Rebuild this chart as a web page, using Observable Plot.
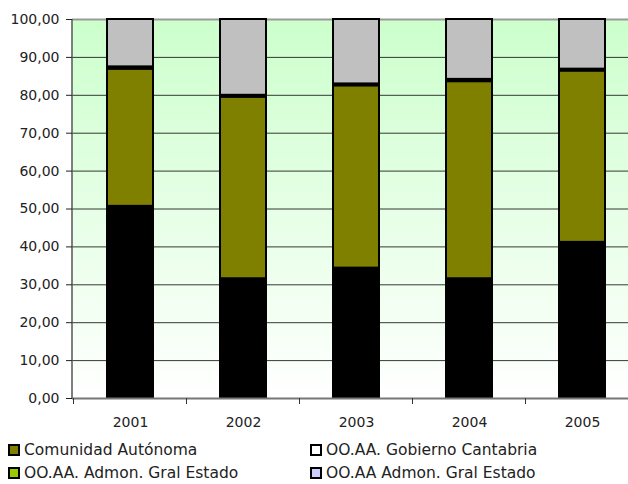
<!DOCTYPE html>
<html>
<head>
<meta charset="utf-8">
<script src="https://cdn.jsdelivr.net/npm/d3@7"></script>
<script src="https://cdn.jsdelivr.net/npm/@observablehq/plot@0.6"></script>
<style>
  html, body { margin: 0; padding: 0; background: #fff; overflow: hidden; }
  #chart svg { display: block; }
  .legend { display: grid; grid-template-columns: 302px auto; padding-left: 8px; margin-top: 8px;
    font-family: "DejaVu Sans", sans-serif; font-size: 15.5px; color: #222; }
  .item { display: flex; align-items: center; height: 23px; white-space: nowrap; }
  .sw { width: 12px; height: 12px; box-sizing: border-box; border: 2px solid #000; margin-right: 4px; flex: none; }
</style>
</head>
<body>
<div id="chart"></div>
<div class="legend" id="legend"></div>
<script>
const years = ["2001", "2002", "2003", "2004", "2005"];
const seriesBlack = [50.7, 31.6, 34.4, 31.6, 41.2];
const seriesOlive = [36.2, 47.9, 48.1, 52.0, 45.2];
const seriesThin  = [0.6, 0.5, 0.5, 0.6, 0.5];
const seriesGray  = [12.5, 20.0, 17.0, 15.8, 13.1];
const yTicks = [0, 10, 20, 30, 40, 50, 60, 70, 80, 90, 100];
const segNames = ["s1", "s2", "s3", "s4"];
const segColors = ["#000000", "#808000", "#000000", "#C0C0C0"];
const legendNames = ["Comunidad Autónoma", "OO.AA. Gobierno Cantabria", "OO.AA. Admon. Gral Estado", "OO.AA Admon. Gral Estado"];
const legendColors = ["#808000", "#FFFFFF", "#99CC00", "#CCCCFF"];

const rows = [];
years.forEach((yr, i) => {
  [seriesBlack, seriesOlive, seriesThin, seriesGray].forEach((s, k) => {
    rows.push({year: yr, seg: segNames[k], order: k, value: s[i]});
  });
});

function defs() {
  const d = d3.create("svg:defs");
  const g = d.append("linearGradient").attr("id", "bg").attr("x1", 0).attr("y1", 0).attr("x2", 0).attr("y2", 1);
  g.append("stop").attr("offset", "0%").attr("stop-color", "#CCFFCC");
  g.append("stop").attr("offset", "100%").attr("stop-color", "#FFFFFF");
  return d.node();
}

function axisLines(index, scales, values, dim) {
  const g = d3.create("svg:g");
  const x = scales.x, y = scales.y;
  const bw = x.bandwidth ? x.bandwidth() : 0;
  const step = x.step ? x.step() : bw / 0.41;
  const off = (step - bw) / 2;
  const xl = dim.marginLeft;
  g.append("line").attr("x1", xl).attr("x2", xl).attr("y1", y(100)).attr("y2", y(0))
    .attr("stroke", "#555").attr("stroke-width", 1.5);
  const bounds = years.map(v => x(v) - off).concat([x(years[years.length - 1]) + bw + off]);
  bounds.forEach(b => {
    g.append("line").attr("x1", b).attr("x2", b).attr("y1", y(0)).attr("y2", y(0) + 6)
      .attr("stroke", "#333").attr("stroke-width", 1);
  });
  return g.node();
}

const plot = Plot.plot({
  width: 628,
  height: 430,
  marginLeft: 72,
  marginRight: -12,
  marginTop: 19,
  marginBottom: 32,
  style: {fontFamily: "DejaVu Sans, sans-serif", fontSize: "14px", color: "#222", overflow: "hidden"},
  x: {domain: years, paddingInner: 0.59, paddingOuter: 0.295, label: null},
  y: {domain: [0, 100], label: null},
  color: {domain: segNames, range: segColors},
  marks: [
    defs,
    Plot.frame({fill: "url(#bg)", stroke: null}),
    Plot.ruleY(yTicks.filter(d => d > 0 && d < 100), {stroke: "#222", strokeWidth: 1, strokeOpacity: 0.9}),
    Plot.ruleY([100], {stroke: "#999", strokeWidth: 2}),
    Plot.barY(rows, {x: "year", y: "value", fill: "seg", order: "order", stroke: "#000", strokeWidth: 2}),
    Plot.ruleY([0], {stroke: "#777", strokeWidth: 2}),
    axisLines,
    Plot.axisY({ticks: yTicks, tickSize: 6, tickPadding: 7, tickFormat: d => d.toFixed(2).replace(".", ","), fontSize: 14, label: null}),
    Plot.axisX({tickSize: 0, tickPadding: 19, label: null, fontSize: 14})
  ]
});
document.getElementById("chart").appendChild(plot);

const leg = document.getElementById("legend");
legendNames.forEach((n, i) => {
  const it = document.createElement("div");
  it.className = "item";
  const sw = document.createElement("span");
  sw.className = "sw";
  sw.style.background = legendColors[i];
  it.appendChild(sw);
  it.appendChild(document.createTextNode(n));
  leg.appendChild(it);
});
</script>
</body>
</html>
